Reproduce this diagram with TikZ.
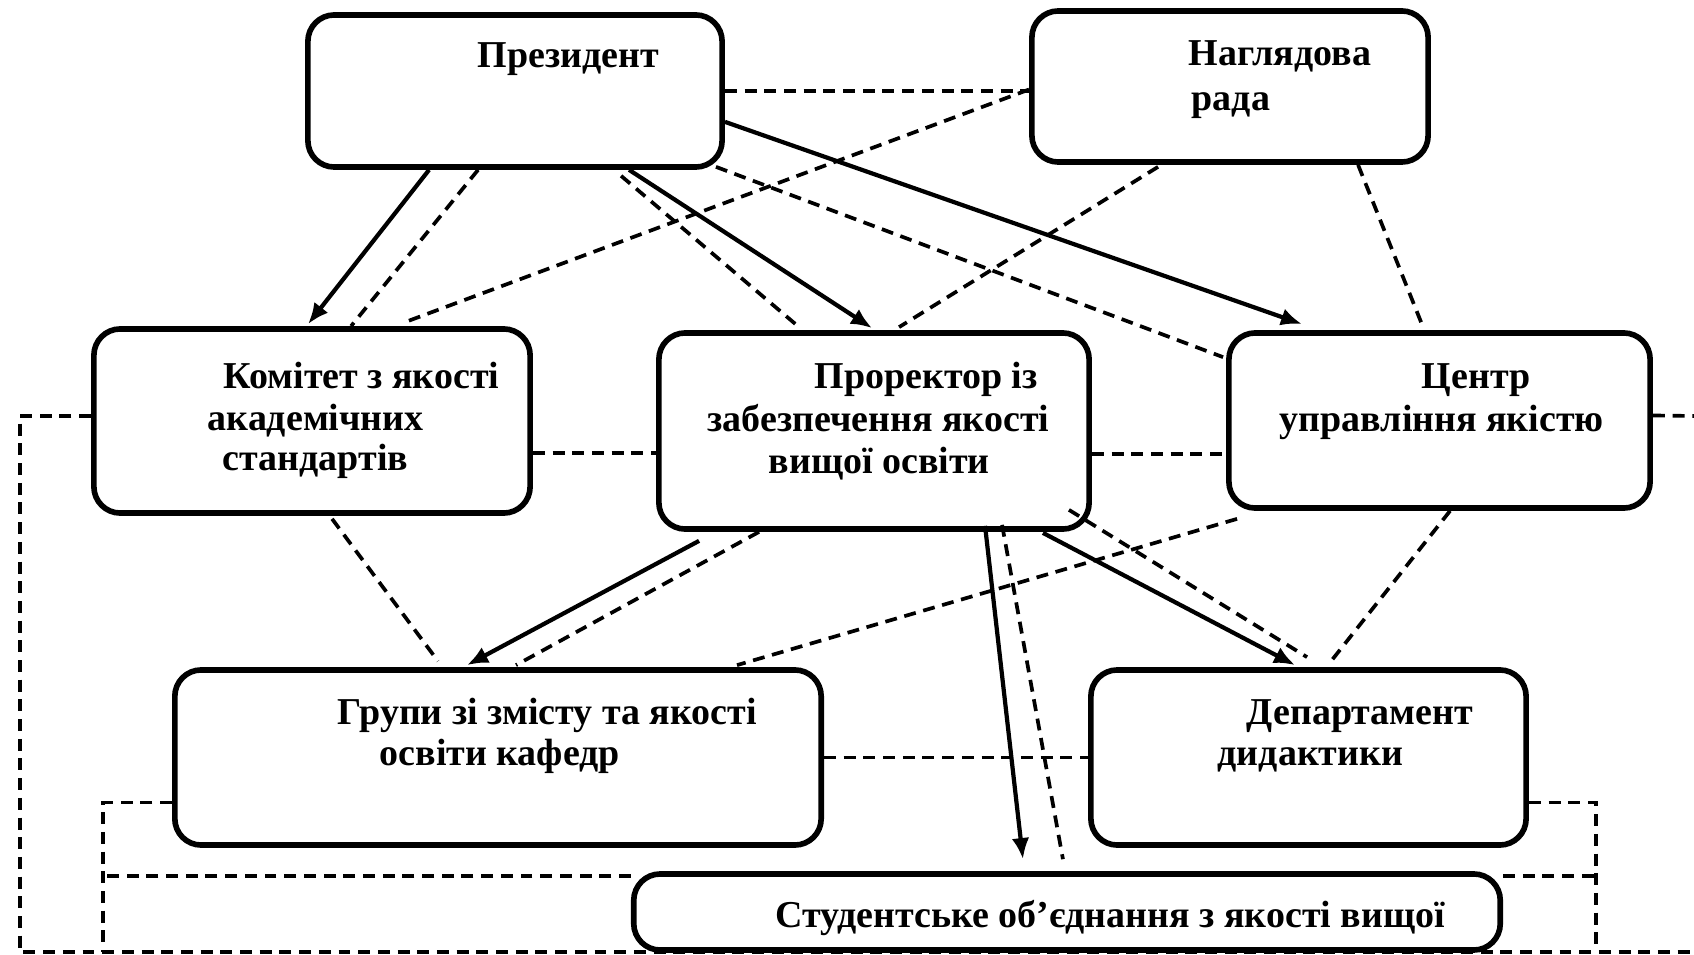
\documentclass[tikz,border=0pt]{standalone}
\usepackage{fontspec}
\setmainfont{Liberation Serif}
\usetikzlibrary{calc,arrows.meta}
\begin{document}
\begin{tikzpicture}[x=0.01cm,y=-0.01cm,
  box/.style={draw,line width=1.6pt,rounded corners=7.5pt,inner sep=0pt},
  lbl/.style={font=\fontsize{10.8pt}{12pt}\selectfont\bfseries,inner sep=0pt,anchor=base west},
  arr/.style={line width=1.2pt,-{Latex[length=6pt,width=5pt]}},
  dsh/.style={line width=1.05pt,dash pattern=on 3.4pt off 2.2pt}]
\useasboundingbox (0,0) rectangle (1694,955);
% boxes
\node[box,minimum width=4.14cm,minimum height=1.52cm] (pres) at (515,91) {};
\node[box,minimum width=3.96cm,minimum height=1.51cm] (nagl) at (1230,86.5) {};
\node[box,minimum width=4.36cm,minimum height=1.84cm] (kom) at (312,421) {};
\node[box,minimum width=4.30cm,minimum height=1.96cm] (pror) at (874,431) {};
\node[box,minimum width=4.21cm,minimum height=1.75cm] (centr) at (1439.5,420.5) {};
\node[box,minimum width=6.46cm,minimum height=1.75cm] (grup) at (498,757.5) {};
\node[box,minimum width=4.35cm,minimum height=1.75cm] (dep) at (1308.5,757.5) {};
\node[box,minimum width=8.66cm,minimum height=0.76cm] (stud) at (1067,912) {};
% texts
\node[lbl] (tpres) at (477,68) {Президент};
\node[lbl] (tnagl1) at (1188,66) {Наглядова};
\node[lbl] (tnagl2) at (1191,111) {рада};
\node[lbl] (tkom1) at (223,389) {Комітет з якості};
\node[lbl] (tkom2) at (207,430) {академічних};
\node[lbl] (tkom3) at (222,471) {стандартів};
\node[lbl] (tpror1) at (814,389) {Проректор із};
\node[lbl] (tpror2) at (707,432) {забезпечення якості};
\node[lbl] (tpror3) at (768,473) {вищої освіти};
\node[lbl] (tcentr1) at (1421,389) {Центр};
\node[lbl] (tcentr2) at (1279,432) {управління якістю};
\node[lbl] (tgrup1) at (337,724) {Групи зі змісту та якості};
\node[lbl] (tgrup2) at (379,765) {освіти кафедр};
\node[lbl] (tdep1) at (1246,724) {Департамент};
\node[lbl] (tdep2) at (1217,765) {дидактики};
\node[lbl] (tstud) at (775,927) {Студентське об’єднання з якості вищої};
% free ends
\coordinate (OL) at (20,952);
\coordinate (OR) at (1694,952);
\coordinate (OE) at (1694,416);
\coordinate (IL) at (103,952);
\coordinate (IR) at (1596,952);
% solid arrows
\draw[arr] ($(pres.south west)+(124,0)$) -- ($(kom.north west)+(217,-2)$);
\draw[arr] ($(pres.south west)+(324,0)$) -- ($(pror.north west)+(216,-2)$);
\draw[arr] ($(pres.south east)+(0,-48)$) -- ($(centr.north west)+(76,-6)$);
\draw[arr] ($(pror.south west)+(43,9)$) -- ($(grup.north west)+(295,-2)$);
\draw[arr] ($(pror.south west)+(329,-6)$) -- ($(stud.north west)+(392,-12)$);
\draw[arr] ($(pror.south east)+(-49,1)$) -- ($(dep.north west)+(207,-2)$);
% dashed diagonals
\draw[dsh] ($(pres.south west)+(173,0)$) -- ($(kom.north west)+(260,0)$);
\draw[dsh] ($(pres.south west)+(316,6)$) -- ($(pror.north west)+(143,-3)$);
\draw[dsh] ($(pres.south east)+(-9,-3)$) -- ($(centr.north west)+(-3,27)$);
\draw[dsh] ($(nagl.west)+(0,3)$) -- ($(kom.north west)+(314,-4)$);
\draw[dsh] ($(nagl.south west)+(129,2)$) -- ($(pror.north west)+(243,-3)$);
\draw[dsh] ($(nagl.south west)+(329,0)$) -- ($(centr.north west)+(197,-3)$);
\draw[dsh] ($(kom.south west)+(241,3)$) -- ($(grup.north west)+(266,-6)$);
\draw[dsh] ($(pror.south west)+(103,0)$) -- ($(grup.north west)+(344,-2)$);
\draw[dsh] ($(centr.south west)+(11,8)$) -- ($(grup.north west)+(565,-2)$);
\draw[dsh] ($(centr.south west)+(224,0)$) -- ($(dep.north west)+(243,-6)$);
\draw[dsh] ($(pror.south east)+(-23,-22)$) -- ($(dep.north west)+(219,-10)$);
\draw[dsh] ($(pror.south west)+(346,-7)$) -- ($(stud.north west)+(432,-12)$);
% dashed horizontals
\draw[dsh] (pres.east) -- (pres.east -| nagl.west);
\draw[dsh] ($(kom.east)+(0,32)$) coordinate (k1) -- (k1 -| pror.west);
\draw[dsh] ($(pror.east)+(0,23)$) coordinate (p1) -- (p1 -| centr.west);
\draw[dsh] (grup.east) -- (dep.west);
% outer loop
\draw[dsh] ($(kom.west)+(0,-5)$) -| (OL) -- (OR);
\draw[dsh] ($(centr.east)+(0,-5)$) -- (OE);
% inner loops
\draw[dsh] ($(grup.west)+(0,45)$) -| (IL);
\draw[dsh] ($(stud.north west)+(0,5)$) coordinate (s1) -- (s1 -| IL);
\draw[dsh] ($(dep.east)+(0,45)$) -| (IR);
\draw[dsh] ($(stud.north east)+(0,5)$) coordinate (s2) -- (s2 -| IR);
\end{tikzpicture}
\end{document}
